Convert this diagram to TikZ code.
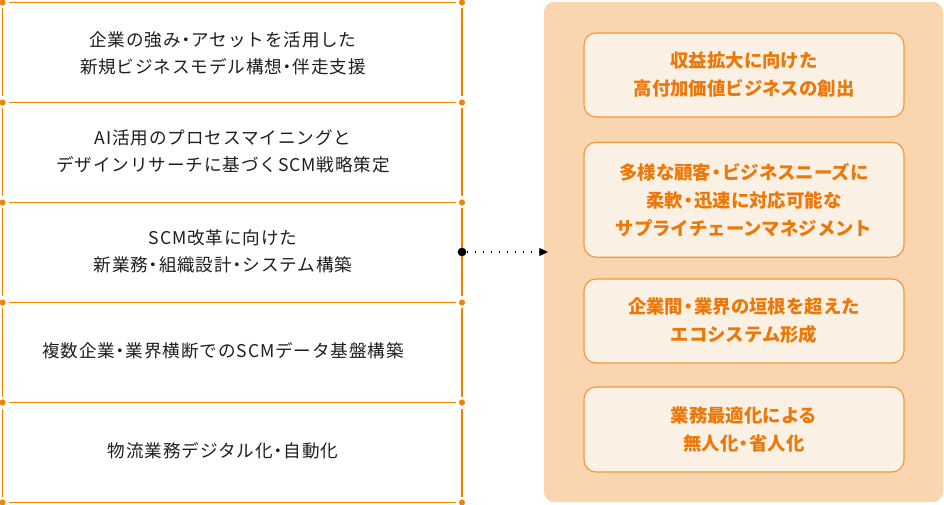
\documentclass[tikz,border=0pt]{standalone}
\usepackage{fontspec}
\setmainfont{Noto Sans CJK JP}
\newfontfamily\rowfont[LetterSpace=5]{Noto Sans CJK JP}
\newcommand\nd{\hspace{-.2em}・\hspace{-.2em}}
\usetikzlibrary{arrows.meta}
\definecolor{linecol}{RGB}{240,131,0}
\definecolor{panelcol}{RGB}{250,214,176}
\definecolor{goalfill}{RGB}{250,240,228}
\definecolor{goaldraw}{RGB}{242,152,60}
\definecolor{goaltext}{RGB}{236,120,10}
\definecolor{bodytext}{RGB}{30,30,30}

\begin{document}
\begin{tikzpicture}[x=0.75pt,y=0.75pt,yscale=-1,xscale=1,
  rowline/.style={draw=linecol,line width=1.2pt,shorten <=4.5pt,shorten >=4.5pt},
  rowtext/.style={text=bodytext,align=center,font=\rowfont\fontsize{13.2pt}{20.25pt}\selectfont},
  goalbox/.style={draw=goaldraw,line width=0.9pt,fill=goalfill,rounded corners=9pt,
    minimum width=240pt,text=goaltext,align=center,
    font=\bfseries\fontsize{13.8pt}{21pt}\selectfont},
  dotline/.style={line width=0.8pt,dash pattern=on 0.8pt off 5.2pt}]
\useasboundingbox (0,0) rectangle (944,505);

%Shape: Rectangle [id:panel]
\fill[panelcol,rounded corners=7.5pt] (544,2) rectangle (943,502);

%Corner points of the rows
\foreach \i in {0,...,5}{
  \coordinate (L\i) at (2.5,2.5+100*\i);
  \coordinate (R\i) at (462,2.5+100*\i);
}
%Straight Lines
\foreach \i in {0,...,5}
  \draw[rowline] (L\i) -- (R\i);
\foreach \i/\j in {0/1,1/2,2/3,3/4,4/5}{
  \draw[rowline] (L\i) -- (L\j);
  \draw[rowline] (R\i) -- (R\j);
}
\foreach \i in {0,...,5}
  \fill[linecol] (L\i) circle (2.3pt) (R\i) circle (2.3pt);

% Text Node
\node[rowtext] (rowtext1) at (223,53) {企業の強み\nd アセットを活用した\\新規ビジネスモデル構想\nd 伴走支援};
\node[rowtext] (rowtext2) at (223,151) {AI活用のプロセスマイニングと\\デザインリサーチに基づくSCM戦略策定};
\node[rowtext] (rowtext3) at (223,251) {SCM改革に向けた\\新業務\nd 組織設計\nd システム構築};
\node[rowtext] (rowtext4) at (223,351) {複数企業\nd 業界横断でのSCMデータ基盤構築};
\node[rowtext] (rowtext5) at (223,451) {物流業務デジタル化\nd 自動化};

%Shape: Rounded Rectangle
\node[goalbox,minimum height=63pt] (goal1) at (744,75) {収益拡大に向けた\\高付加価値ビジネスの創出};
\node[goalbox,minimum height=86.25pt] (goal2) at (744,199.7) {多様な顧客\nd ビジネスニーズに\\柔軟\nd 迅速に対応可能な\\サプライチェーンマネジメント};
\node[goalbox,minimum height=63pt] (goal3) at (744,321) {企業間\nd 業界の垣根を超えた\\エコシステム形成};
\node[goalbox,minimum height=63.75pt] (goal4) at (744,429.5) {業務最適化による\\無人化\nd 省人化};

%Straight Lines
\node[circle,fill=black,inner sep=0pt,minimum size=6.5pt] (src) at (462,252) {};
\coordinate (tip) at (548,252);
\draw[dotline,-{Triangle[length=6.5pt,width=6pt]}] (src) -- (tip);

\end{tikzpicture}
\end{document}
